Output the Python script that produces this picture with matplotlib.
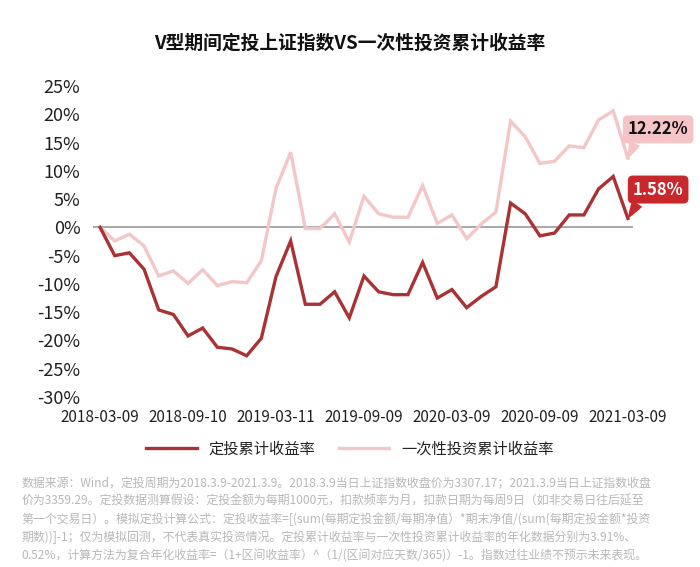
import matplotlib
matplotlib.use("Agg")
import matplotlib.pyplot as plt

plt.rcParams['font.family'] = ['Noto Sans CJK SC', 'DejaVu Sans']

title = "V型期间定投上证指数VS一次性投资累计收益率"
series_names = ["定投累计收益率", "一次性投资累计收益率"]
tick_labels = ["2018-03-09", "2018-09-10", "2019-03-11", "2019-09-09",
               "2020-03-09", "2020-09-09", "2021-03-09"]
yticks = [-30, -25, -20, -15, -10, -5, 0, 5, 10, 15, 20, 25]

# monthly values, 2018-03 .. 2021-03 (37 points), in %
dingtou = [0, -5.0, -4.5, -7.4, -14.6, -15.4, -19.2, -17.8, -21.2, -21.5,
           -22.7, -19.6, -8.7, -2.4, -13.6, -13.6, -11.4, -16.0, -8.6, -11.4,
           -11.9, -11.9, -6.2, -12.5, -11.0, -14.2, -12.2, -10.5, 4.3, 2.4,
           -1.5, -1.0, 2.2, 2.2, 6.8, 9.0, 1.58]
yicixing = [0, -2.4, -1.2, -3.3, -8.6, -7.7, -9.9, -7.5, -10.3, -9.6,
            -9.8, -5.9, 6.9, 13.3, -0.2, -0.2, 2.4, -2.6, 5.5, 2.4,
            1.8, 1.8, 7.4, 0.7, 2.2, -2.0, 0.6, 2.7, 18.8, 16.0,
            11.3, 11.7, 14.4, 14.1, 19.0, 20.6, 12.22]
end_labels = ["1.58%", "12.22%"]

dark = '#a93234'
light = '#f3c6c8'
box_pink = '#f5c4c6'
box_red = '#c8282c'

fig = plt.figure(figsize=(7.0, 5.67), dpi=100)
ax = fig.add_axes([0.1329, 0.2998, 0.7714, 0.5485])

x = list(range(len(dingtou)))
ax.axhline(0, color='#9a9a9a', lw=1.2, zorder=1)
l2, = ax.plot(x, yicixing, color=light, lw=2.4, zorder=2, solid_joinstyle='miter')
l1, = ax.plot(x, dingtou, color=dark, lw=2.4, zorder=3, solid_joinstyle='miter')

ax.set_xlim(-0.48, 36.35)
ax.set_ylim(-30, 25)
ax.set_yticks(yticks)
ax.set_yticklabels([f"{v}%" for v in yticks])
ax.set_xticks(list(range(0, 37, 6)))
ax.set_xticklabels(tick_labels)
ax.tick_params(axis='y', length=0, pad=9, labelsize=13, labelcolor='#222222')
ax.tick_params(axis='x', length=0, pad=8.5, labelsize=11, labelcolor='#222222')
for s in ax.spines.values():
    s.set_visible(False)

# end-value callouts
for val, lab, fc, tc in [(yicixing[-1], end_labels[1], box_pink, '#111111'),
                         (dingtou[-1], end_labels[0], box_red, 'white')]:
    ax.annotate(lab, xy=(x[-1], val), xytext=(21.8, 20.8), textcoords='offset points',
                ha='center', va='center', fontsize=12, fontweight='bold', color=tc,
                bbox=dict(boxstyle='round,pad=0.3,rounding_size=0.3', fc=fc, ec='none'),
                arrowprops=dict(arrowstyle='wedge,tail_width=0.7,shrink_factor=0.6',
                                fc=fc, ec='none', relpos=(0.16, 0.05),
                                shrinkA=0, shrinkB=0),
                annotation_clip=False, zorder=5)

fig.text(0.5, 0.924, title, ha='center', va='center', fontsize=13.5,
         fontweight='bold', color='#111111')

fig.legend([l1, l2], series_names, loc='center', bbox_to_anchor=(0.5, 0.208),
           ncol=2, frameon=False, fontsize=11, handlelength=3.3,
           columnspacing=1.5, handletextpad=0.8, labelcolor='#222222')

note = ("数据来源：Wind，定投周期为2018.3.9-2021.3.9。2018.3.9当日上证指数收盘价为3307.17；2021.3.9当日上证指数收盘\n"
        "价为3359.29。定投数据测算假设：定投金额为每期1000元，扣款频率为月，扣款日期为每周9日（如非交易日往后延至\n"
        "第一个交易日）。模拟定投计算公式：定投收益率=[(sum(每期定投金额/每期净值）*期末净值/(sum(每期定投金额*投资\n"
        "期数))]-1；仅为模拟回测，不代表真实投资情况。定投累计收益率与一次性投资累计收益率的年化数据分别为3.91%、\n"
        "0.52%，计算方法为复合年化收益率=（1+区间收益率）^（1/(区间对应天数/365)）-1。指数过往业绩不预示未来表现。")
fig.text(0.031, 0.158, note, ha='left', va='top', fontsize=8.6, color='#b8b8b8',
         linespacing=1.45)

fig.savefig('out.png', dpi=100, facecolor='white')
